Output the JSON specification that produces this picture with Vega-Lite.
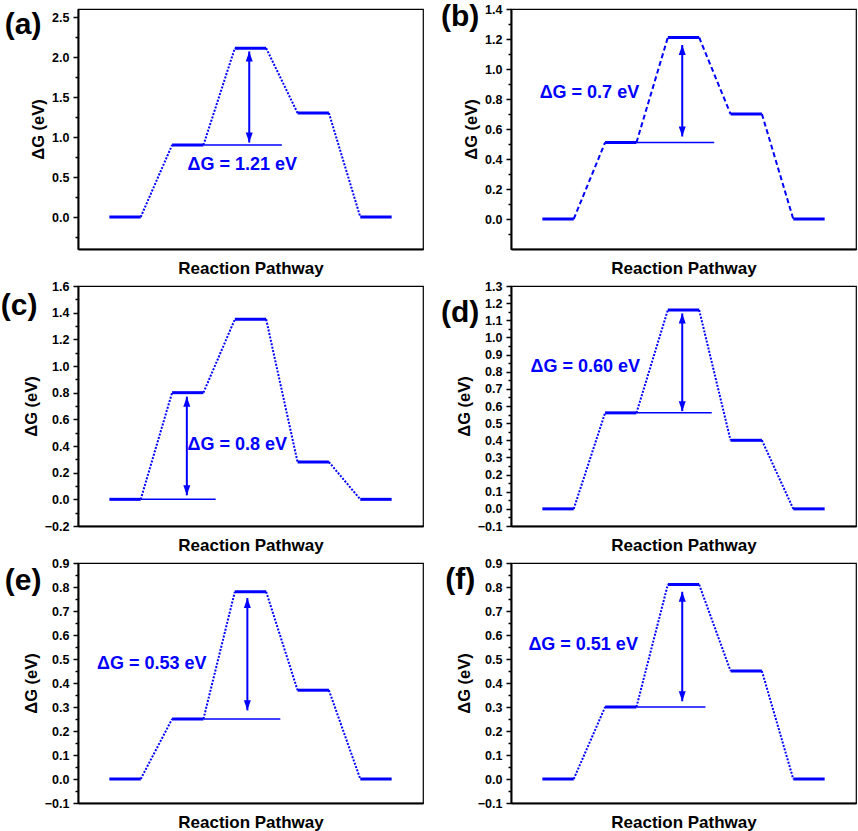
{
"$schema":"https://vega.github.io/schema/vega-lite/v6.json",
"padding":{"left":0,"top":0,"right":2,"bottom":2},
"background":"white",
"config":{
 "view":{"stroke":"black","strokeWidth":1.2},
 "axis":{"grid":false,"labelFont":"Liberation Sans","labelFontWeight":"bold","labelFontSize":12.5,"labelColor":"black","titleFont":"Liberation Sans","titleFontWeight":"bold","titleColor":"black","domainColor":"black","tickColor":"black"},
 "axisY":{"domainWidth":2,"tickSize":5,"tickWidth":1.5,"labelPadding":4,"titleFontSize":16.5,"titlePadding":5},
 "axisX":{"domainWidth":2,"ticks":false,"labels":false,"titleFontSize":17,"titlePadding":11}
},
"datasets":{
 "a":[
  {"k":"lv","x":1,"x2":2,"y":0},{"k":"lv","x":3,"x2":4,"y":0.9},{"k":"lv","x":5,"x2":6,"y":2.11},{"k":"lv","x":7,"x2":8,"y":1.3},{"k":"lv","x":9,"x2":10,"y":0},
  {"k":"cn","x":2,"x2":3,"y":0,"y2":0.9},{"k":"cn","x":4,"x2":5,"y":0.9,"y2":2.11},{"k":"cn","x":6,"x2":7,"y":2.11,"y2":1.3},{"k":"cn","x":8,"x2":9,"y":1.3,"y2":0},
  {"k":"rf","x":4,"x2":6.5,"y":0.9},
  {"k":"ar","x":5.46,"y":0.93,"y2":2.07},{"k":"up","x":5.46,"y":2.07},{"k":"dn","x":5.46,"y":0.93},
  {"k":"tx","x":5.24,"y":0.65,"t":"ΔG = 1.21 eV"},
  {"k":"pl","x":-1.75,"y":2.405,"t":"(a)"}
 ],
 "b":[
  {"k":"lv","x":1,"x2":2,"y":0},{"k":"lv","x":3,"x2":4,"y":0.51},{"k":"lv","x":5,"x2":6,"y":1.21},{"k":"lv","x":7,"x2":8,"y":0.7},{"k":"lv","x":9,"x2":10,"y":0},
  {"k":"cn","x":2,"x2":3,"y":0,"y2":0.51},{"k":"cn","x":4,"x2":5,"y":0.51,"y2":1.21},{"k":"cn","x":6,"x2":7,"y":1.21,"y2":0.7},{"k":"cn","x":8,"x2":9,"y":0.7,"y2":0},
  {"k":"rf","x":4,"x2":6.48,"y":0.51},
  {"k":"ar","x":5.46,"y":0.55,"y2":1.16},{"k":"up","x":5.46,"y":1.16},{"k":"dn","x":5.46,"y":0.55},
  {"k":"tx","x":2.5,"y":0.84,"t":"ΔG = 0.7 eV"},
  {"k":"pl","x":-1.62,"y":1.35,"t":"(b)"}
 ],
 "c":[
  {"k":"lv","x":1,"x2":2,"y":0},{"k":"lv","x":3,"x2":4,"y":0.8},{"k":"lv","x":5,"x2":6,"y":1.35},{"k":"lv","x":7,"x2":8,"y":0.28},{"k":"lv","x":9,"x2":10,"y":0},
  {"k":"cn","x":2,"x2":3,"y":0,"y2":0.8},{"k":"cn","x":4,"x2":5,"y":0.8,"y2":1.35},{"k":"cn","x":6,"x2":7,"y":1.35,"y2":0.28},{"k":"cn","x":8,"x2":9,"y":0.28,"y2":0},
  {"k":"rf","x":2,"x2":4.39,"y":0},
  {"k":"ar","x":3.47,"y":0.03,"y2":0.77},{"k":"up","x":3.47,"y":0.77},{"k":"dn","x":3.47,"y":0.03},
  {"k":"tx","x":5.08,"y":0.41,"t":"ΔG = 0.8 eV"},
  {"k":"pl","x":-1.88,"y":1.45,"t":"(c)"}
 ],
 "d":[
  {"k":"lv","x":1,"x2":2,"y":0},{"k":"lv","x":3,"x2":4,"y":0.56},{"k":"lv","x":5,"x2":6,"y":1.16},{"k":"lv","x":7,"x2":8,"y":0.4},{"k":"lv","x":9,"x2":10,"y":0},
  {"k":"cn","x":2,"x2":3,"y":0,"y2":0.56},{"k":"cn","x":4,"x2":5,"y":0.56,"y2":1.16},{"k":"cn","x":6,"x2":7,"y":1.16,"y2":0.4},{"k":"cn","x":8,"x2":9,"y":0.4,"y2":0},
  {"k":"rf","x":4,"x2":6.4,"y":0.56},
  {"k":"ar","x":5.46,"y":0.57,"y2":1.14},{"k":"up","x":5.46,"y":1.14},{"k":"dn","x":5.46,"y":0.57},
  {"k":"tx","x":2.37,"y":0.83,"t":"ΔG = 0.60 eV"},
  {"k":"pl","x":-1.62,"y":1.14,"t":"(d)"}
 ],
 "e":[
  {"k":"lv","x":1,"x2":2,"y":0},{"k":"lv","x":3,"x2":4,"y":0.25},{"k":"lv","x":5,"x2":6,"y":0.78},{"k":"lv","x":7,"x2":8,"y":0.37},{"k":"lv","x":9,"x2":10,"y":0},
  {"k":"cn","x":2,"x2":3,"y":0,"y2":0.25},{"k":"cn","x":4,"x2":5,"y":0.25,"y2":0.78},{"k":"cn","x":6,"x2":7,"y":0.78,"y2":0.37},{"k":"cn","x":8,"x2":9,"y":0.37,"y2":0},
  {"k":"rf","x":4,"x2":6.45,"y":0.25},
  {"k":"ar","x":5.4,"y":0.286,"y2":0.754},{"k":"up","x":5.4,"y":0.754},{"k":"dn","x":5.4,"y":0.286},
  {"k":"tx","x":2.35,"y":0.48,"t":"ΔG = 0.53 eV"},
  {"k":"pl","x":-1.75,"y":0.825,"t":"(e)"}
 ],
 "f":[
  {"k":"lv","x":1,"x2":2,"y":0},{"k":"lv","x":3,"x2":4,"y":0.3},{"k":"lv","x":5,"x2":6,"y":0.81},{"k":"lv","x":7,"x2":8,"y":0.45},{"k":"lv","x":9,"x2":10,"y":0},
  {"k":"cn","x":2,"x2":3,"y":0,"y2":0.3},{"k":"cn","x":4,"x2":5,"y":0.3,"y2":0.81},{"k":"cn","x":6,"x2":7,"y":0.81,"y2":0.45},{"k":"cn","x":8,"x2":9,"y":0.45,"y2":0},
  {"k":"rf","x":4,"x2":6.2,"y":0.3},
  {"k":"ar","x":5.46,"y":0.324,"y2":0.78},{"k":"up","x":5.46,"y":0.78},{"k":"dn","x":5.46,"y":0.324},
  {"k":"tx","x":2.3,"y":0.56,"t":"ΔG = 0.51 eV"},
  {"k":"pl","x":-1.62,"y":0.83,"t":"(f)"}
 ]
},
"columns":2,
"spacing":{"row":37,"column":88},
"bounds":"flush",
"concat":[
 {"width":345,"height":240,"data":{"name":"a"},
  "encoding":{"x":{"field":"x","type":"quantitative","scale":{"domain":[0,11]},"axis":{"title":"Reaction Pathway"}}},
  "layer":[
   {"transform":[{"filter":"datum.k=='lv'"}],"mark":{"type":"rule","color":"#0000ff","strokeWidth":3},"encoding":{"x2":{"field":"x2"},"y":{"field":"y","type":"quantitative","scale":{"domain":[-0.25,2.5]},"axis":{"title":"ΔG (eV)","values":[0,0.5,1,1.5,2,2.5],"format":".1f"}}}},
   {"transform":[{"filter":"datum.k=='cn'"}],"mark":{"type":"rule","color":"#0000ff","strokeWidth":2,"strokeDash":[2,1.5]},"encoding":{"x2":{"field":"x2"},"y":{"field":"y","type":"quantitative","axis":{"orient":"left","values":[-0.25,0.25,0.75,1.25,1.75,2.25],"labels":false,"domain":false,"tickSize":3,"title":null}},"y2":{"field":"y2"}}},
   {"transform":[{"filter":"datum.k=='rf'"}],"mark":{"type":"rule","color":"#0000ff","strokeWidth":1.5},"encoding":{"x2":{"field":"x2"},"y":{"field":"y","type":"quantitative","axis":null}}},
   {"transform":[{"filter":"datum.k=='ar'"}],"mark":{"type":"rule","color":"#0000ff","strokeWidth":2},"encoding":{"y":{"field":"y","type":"quantitative","axis":null},"y2":{"field":"y2"}}},
   {"transform":[{"filter":"datum.k=='up'"}],"mark":{"type":"point","filled":true,"opacity":1,"strokeWidth":0,"color":"#0000ff","size":100,"shape":"M0,0L0.7,2L-0.7,2Z"},"encoding":{"y":{"field":"y","type":"quantitative","axis":null}}},
   {"transform":[{"filter":"datum.k=='dn'"}],"mark":{"type":"point","filled":true,"opacity":1,"strokeWidth":0,"color":"#0000ff","size":100,"shape":"M0,0L0.7,-2L-0.7,-2Z"},"encoding":{"y":{"field":"y","type":"quantitative","axis":null}}},
   {"transform":[{"filter":"datum.k=='tx'"}],"mark":{"type":"text","color":"#0000ff","font":"Liberation Sans","fontWeight":"bold","fontSize":18},"encoding":{"y":{"field":"y","type":"quantitative","axis":null},"text":{"field":"t"}}},
   {"transform":[{"filter":"datum.k=='pl'"}],"mark":{"type":"text","color":"black","font":"Liberation Sans","fontWeight":"bold","fontSize":30},"encoding":{"y":{"field":"y","type":"quantitative","axis":null},"text":{"field":"t"}}}
  ],
  "resolve":{"axis":{"y":"independent"}}
 },
 {"width":345,"height":240,"data":{"name":"b"},
  "encoding":{"x":{"field":"x","type":"quantitative","scale":{"domain":[0,11]},"axis":{"title":"Reaction Pathway"}}},
  "layer":[
   {"transform":[{"filter":"datum.k=='lv'"}],"mark":{"type":"rule","color":"#0000ff","strokeWidth":3},"encoding":{"x2":{"field":"x2"},"y":{"field":"y","type":"quantitative","scale":{"domain":[-0.1,1.4]},"axis":{"title":"ΔG (eV)","values":[0,0.2,0.4,0.6,0.8,1,1.2,1.4],"format":".1f"}}}},
   {"transform":[{"filter":"datum.k=='cn'"}],"mark":{"type":"rule","color":"#0000ff","strokeWidth":2,"strokeDash":[5,3]},"encoding":{"x2":{"field":"x2"},"y":{"field":"y","type":"quantitative","axis":{"orient":"left","values":[-0.1,0.1,0.3,0.5,0.7,0.9,1.1,1.3],"labels":false,"domain":false,"tickSize":3,"title":null}},"y2":{"field":"y2"}}},
   {"transform":[{"filter":"datum.k=='rf'"}],"mark":{"type":"rule","color":"#0000ff","strokeWidth":1.5},"encoding":{"x2":{"field":"x2"},"y":{"field":"y","type":"quantitative","axis":null}}},
   {"transform":[{"filter":"datum.k=='ar'"}],"mark":{"type":"rule","color":"#0000ff","strokeWidth":2},"encoding":{"y":{"field":"y","type":"quantitative","axis":null},"y2":{"field":"y2"}}},
   {"transform":[{"filter":"datum.k=='up'"}],"mark":{"type":"point","filled":true,"opacity":1,"strokeWidth":0,"color":"#0000ff","size":100,"shape":"M0,0L0.7,2L-0.7,2Z"},"encoding":{"y":{"field":"y","type":"quantitative","axis":null}}},
   {"transform":[{"filter":"datum.k=='dn'"}],"mark":{"type":"point","filled":true,"opacity":1,"strokeWidth":0,"color":"#0000ff","size":100,"shape":"M0,0L0.7,-2L-0.7,-2Z"},"encoding":{"y":{"field":"y","type":"quantitative","axis":null}}},
   {"transform":[{"filter":"datum.k=='tx'"}],"mark":{"type":"text","color":"#0000ff","font":"Liberation Sans","fontWeight":"bold","fontSize":18},"encoding":{"y":{"field":"y","type":"quantitative","axis":null},"text":{"field":"t"}}},
   {"transform":[{"filter":"datum.k=='pl'"}],"mark":{"type":"text","color":"black","font":"Liberation Sans","fontWeight":"bold","fontSize":30},"encoding":{"y":{"field":"y","type":"quantitative","axis":null},"text":{"field":"t"}}}
  ],
  "resolve":{"axis":{"y":"independent"}}
 },
 {"width":345,"height":240,"data":{"name":"c"},
  "encoding":{"x":{"field":"x","type":"quantitative","scale":{"domain":[0,11]},"axis":{"title":"Reaction Pathway"}}},
  "layer":[
   {"transform":[{"filter":"datum.k=='lv'"}],"mark":{"type":"rule","color":"#0000ff","strokeWidth":3},"encoding":{"x2":{"field":"x2"},"y":{"field":"y","type":"quantitative","scale":{"domain":[-0.2,1.6]},"axis":{"title":"ΔG (eV)","values":[-0.2,0,0.2,0.4,0.6,0.8,1,1.2,1.4,1.6],"format":".1f"}}}},
   {"transform":[{"filter":"datum.k=='cn'"}],"mark":{"type":"rule","color":"#0000ff","strokeWidth":2,"strokeDash":[2,1.5]},"encoding":{"x2":{"field":"x2"},"y":{"field":"y","type":"quantitative","axis":{"orient":"left","values":[-0.1,0.1,0.3,0.5,0.7,0.9,1.1,1.3,1.5],"labels":false,"domain":false,"tickSize":3,"title":null}},"y2":{"field":"y2"}}},
   {"transform":[{"filter":"datum.k=='rf'"}],"mark":{"type":"rule","color":"#0000ff","strokeWidth":1.5},"encoding":{"x2":{"field":"x2"},"y":{"field":"y","type":"quantitative","axis":null}}},
   {"transform":[{"filter":"datum.k=='ar'"}],"mark":{"type":"rule","color":"#0000ff","strokeWidth":2},"encoding":{"y":{"field":"y","type":"quantitative","axis":null},"y2":{"field":"y2"}}},
   {"transform":[{"filter":"datum.k=='up'"}],"mark":{"type":"point","filled":true,"opacity":1,"strokeWidth":0,"color":"#0000ff","size":100,"shape":"M0,0L0.7,2L-0.7,2Z"},"encoding":{"y":{"field":"y","type":"quantitative","axis":null}}},
   {"transform":[{"filter":"datum.k=='dn'"}],"mark":{"type":"point","filled":true,"opacity":1,"strokeWidth":0,"color":"#0000ff","size":100,"shape":"M0,0L0.7,-2L-0.7,-2Z"},"encoding":{"y":{"field":"y","type":"quantitative","axis":null}}},
   {"transform":[{"filter":"datum.k=='tx'"}],"mark":{"type":"text","color":"#0000ff","font":"Liberation Sans","fontWeight":"bold","fontSize":18},"encoding":{"y":{"field":"y","type":"quantitative","axis":null},"text":{"field":"t"}}},
   {"transform":[{"filter":"datum.k=='pl'"}],"mark":{"type":"text","color":"black","font":"Liberation Sans","fontWeight":"bold","fontSize":30},"encoding":{"y":{"field":"y","type":"quantitative","axis":null},"text":{"field":"t"}}}
  ],
  "resolve":{"axis":{"y":"independent"}}
 },
 {"width":345,"height":240,"data":{"name":"d"},
  "encoding":{"x":{"field":"x","type":"quantitative","scale":{"domain":[0,11]},"axis":{"title":"Reaction Pathway"}}},
  "layer":[
   {"transform":[{"filter":"datum.k=='lv'"}],"mark":{"type":"rule","color":"#0000ff","strokeWidth":3},"encoding":{"x2":{"field":"x2"},"y":{"field":"y","type":"quantitative","scale":{"domain":[-0.1,1.3]},"axis":{"title":"ΔG (eV)","values":[-0.1,0,0.1,0.2,0.3,0.4,0.5,0.6,0.7,0.8,0.9,1,1.1,1.2,1.3],"format":".1f"}}}},
   {"transform":[{"filter":"datum.k=='cn'"}],"mark":{"type":"rule","color":"#0000ff","strokeWidth":2,"strokeDash":[2,1.5]},"encoding":{"x2":{"field":"x2"},"y":{"field":"y","type":"quantitative","axis":{"orient":"left","values":[-0.05,0.05,0.15,0.25,0.35,0.45,0.55,0.65,0.75,0.85,0.95,1.05,1.15,1.25],"labels":false,"domain":false,"tickSize":3,"title":null}},"y2":{"field":"y2"}}},
   {"transform":[{"filter":"datum.k=='rf'"}],"mark":{"type":"rule","color":"#0000ff","strokeWidth":1.5},"encoding":{"x2":{"field":"x2"},"y":{"field":"y","type":"quantitative","axis":null}}},
   {"transform":[{"filter":"datum.k=='ar'"}],"mark":{"type":"rule","color":"#0000ff","strokeWidth":2},"encoding":{"y":{"field":"y","type":"quantitative","axis":null},"y2":{"field":"y2"}}},
   {"transform":[{"filter":"datum.k=='up'"}],"mark":{"type":"point","filled":true,"opacity":1,"strokeWidth":0,"color":"#0000ff","size":100,"shape":"M0,0L0.7,2L-0.7,2Z"},"encoding":{"y":{"field":"y","type":"quantitative","axis":null}}},
   {"transform":[{"filter":"datum.k=='dn'"}],"mark":{"type":"point","filled":true,"opacity":1,"strokeWidth":0,"color":"#0000ff","size":100,"shape":"M0,0L0.7,-2L-0.7,-2Z"},"encoding":{"y":{"field":"y","type":"quantitative","axis":null}}},
   {"transform":[{"filter":"datum.k=='tx'"}],"mark":{"type":"text","color":"#0000ff","font":"Liberation Sans","fontWeight":"bold","fontSize":18},"encoding":{"y":{"field":"y","type":"quantitative","axis":null},"text":{"field":"t"}}},
   {"transform":[{"filter":"datum.k=='pl'"}],"mark":{"type":"text","color":"black","font":"Liberation Sans","fontWeight":"bold","fontSize":30},"encoding":{"y":{"field":"y","type":"quantitative","axis":null},"text":{"field":"t"}}}
  ],
  "resolve":{"axis":{"y":"independent"}}
 },
 {"width":345,"height":240,"data":{"name":"e"},
  "encoding":{"x":{"field":"x","type":"quantitative","scale":{"domain":[0,11]},"axis":{"title":"Reaction Pathway"}}},
  "layer":[
   {"transform":[{"filter":"datum.k=='lv'"}],"mark":{"type":"rule","color":"#0000ff","strokeWidth":3},"encoding":{"x2":{"field":"x2"},"y":{"field":"y","type":"quantitative","scale":{"domain":[-0.1,0.9]},"axis":{"title":"ΔG (eV)","values":[-0.1,0,0.1,0.2,0.3,0.4,0.5,0.6,0.7,0.8,0.9],"format":".1f"}}}},
   {"transform":[{"filter":"datum.k=='cn'"}],"mark":{"type":"rule","color":"#0000ff","strokeWidth":2,"strokeDash":[2,1.5]},"encoding":{"x2":{"field":"x2"},"y":{"field":"y","type":"quantitative","axis":{"orient":"left","values":[-0.05,0.05,0.15,0.25,0.35,0.45,0.55,0.65,0.75,0.85],"labels":false,"domain":false,"tickSize":3,"title":null}},"y2":{"field":"y2"}}},
   {"transform":[{"filter":"datum.k=='rf'"}],"mark":{"type":"rule","color":"#0000ff","strokeWidth":1.5},"encoding":{"x2":{"field":"x2"},"y":{"field":"y","type":"quantitative","axis":null}}},
   {"transform":[{"filter":"datum.k=='ar'"}],"mark":{"type":"rule","color":"#0000ff","strokeWidth":2},"encoding":{"y":{"field":"y","type":"quantitative","axis":null},"y2":{"field":"y2"}}},
   {"transform":[{"filter":"datum.k=='up'"}],"mark":{"type":"point","filled":true,"opacity":1,"strokeWidth":0,"color":"#0000ff","size":100,"shape":"M0,0L0.7,2L-0.7,2Z"},"encoding":{"y":{"field":"y","type":"quantitative","axis":null}}},
   {"transform":[{"filter":"datum.k=='dn'"}],"mark":{"type":"point","filled":true,"opacity":1,"strokeWidth":0,"color":"#0000ff","size":100,"shape":"M0,0L0.7,-2L-0.7,-2Z"},"encoding":{"y":{"field":"y","type":"quantitative","axis":null}}},
   {"transform":[{"filter":"datum.k=='tx'"}],"mark":{"type":"text","color":"#0000ff","font":"Liberation Sans","fontWeight":"bold","fontSize":18},"encoding":{"y":{"field":"y","type":"quantitative","axis":null},"text":{"field":"t"}}},
   {"transform":[{"filter":"datum.k=='pl'"}],"mark":{"type":"text","color":"black","font":"Liberation Sans","fontWeight":"bold","fontSize":30},"encoding":{"y":{"field":"y","type":"quantitative","axis":null},"text":{"field":"t"}}}
  ],
  "resolve":{"axis":{"y":"independent"}}
 },
 {"width":345,"height":240,"data":{"name":"f"},
  "encoding":{"x":{"field":"x","type":"quantitative","scale":{"domain":[0,11]},"axis":{"title":"Reaction Pathway"}}},
  "layer":[
   {"transform":[{"filter":"datum.k=='lv'"}],"mark":{"type":"rule","color":"#0000ff","strokeWidth":3},"encoding":{"x2":{"field":"x2"},"y":{"field":"y","type":"quantitative","scale":{"domain":[-0.1,0.9]},"axis":{"title":"ΔG (eV)","values":[-0.1,0,0.1,0.2,0.3,0.4,0.5,0.6,0.7,0.8,0.9],"format":".1f"}}}},
   {"transform":[{"filter":"datum.k=='cn'"}],"mark":{"type":"rule","color":"#0000ff","strokeWidth":2,"strokeDash":[2,1.5]},"encoding":{"x2":{"field":"x2"},"y":{"field":"y","type":"quantitative","axis":{"orient":"left","values":[-0.05,0.05,0.15,0.25,0.35,0.45,0.55,0.65,0.75,0.85],"labels":false,"domain":false,"tickSize":3,"title":null}},"y2":{"field":"y2"}}},
   {"transform":[{"filter":"datum.k=='rf'"}],"mark":{"type":"rule","color":"#0000ff","strokeWidth":1.5},"encoding":{"x2":{"field":"x2"},"y":{"field":"y","type":"quantitative","axis":null}}},
   {"transform":[{"filter":"datum.k=='ar'"}],"mark":{"type":"rule","color":"#0000ff","strokeWidth":2},"encoding":{"y":{"field":"y","type":"quantitative","axis":null},"y2":{"field":"y2"}}},
   {"transform":[{"filter":"datum.k=='up'"}],"mark":{"type":"point","filled":true,"opacity":1,"strokeWidth":0,"color":"#0000ff","size":100,"shape":"M0,0L0.7,2L-0.7,2Z"},"encoding":{"y":{"field":"y","type":"quantitative","axis":null}}},
   {"transform":[{"filter":"datum.k=='dn'"}],"mark":{"type":"point","filled":true,"opacity":1,"strokeWidth":0,"color":"#0000ff","size":100,"shape":"M0,0L0.7,-2L-0.7,-2Z"},"encoding":{"y":{"field":"y","type":"quantitative","axis":null}}},
   {"transform":[{"filter":"datum.k=='tx'"}],"mark":{"type":"text","color":"#0000ff","font":"Liberation Sans","fontWeight":"bold","fontSize":18},"encoding":{"y":{"field":"y","type":"quantitative","axis":null},"text":{"field":"t"}}},
   {"transform":[{"filter":"datum.k=='pl'"}],"mark":{"type":"text","color":"black","font":"Liberation Sans","fontWeight":"bold","fontSize":30},"encoding":{"y":{"field":"y","type":"quantitative","axis":null},"text":{"field":"t"}}}
  ],
  "resolve":{"axis":{"y":"independent"}}
 }
]
}
